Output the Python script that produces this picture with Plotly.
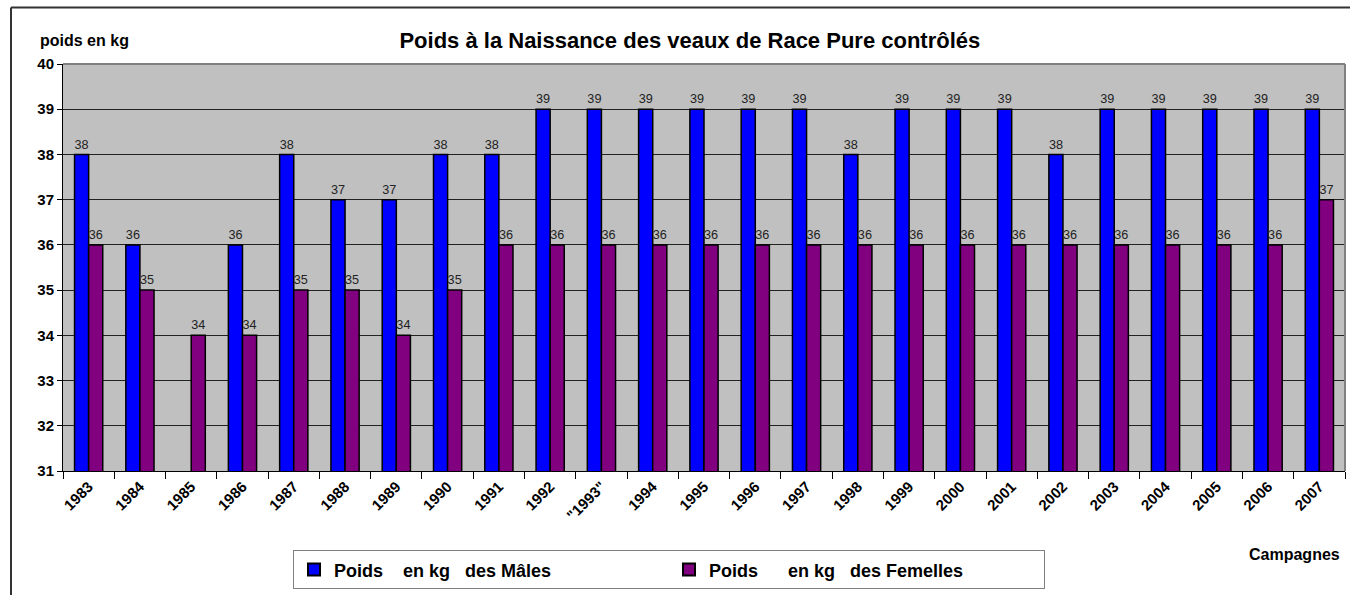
import plotly.graph_objects as go

years = ["1983", "1984", "1985", "1986", "1987", "1988", "1989", "1990", "1991", "1992",
         "\"1993\"", "1994", "1995", "1996", "1997", "1998", "1999", "2000", "2001", "2002",
         "2003", "2004", "2005", "2006", "2007"]
males = [38, 36, None, 36, 38, 37, 37, 38, 38, 39,
         39, 39, 39, 39, 39, 38, 39, 39, 39, 38,
         39, 39, 39, 39, 39]
females = [36, 35, 34, 34, 35, 35, 34, 35, 36, 36,
           36, 36, 36, 36, 36, 36, 36, 36, 36, 36,
           36, 36, 36, 36, 37]
y_ticks = [31, 32, 33, 34, 35, 36, 37, 38, 39, 40]

FONT = "Arial, 'Liberation Sans', sans-serif"
W, H = 1350, 595
ML, MR, MT, MB = 63, 5, 64, 121
PW, PH = W - ML - MR, H - MT - MB


def px(x):
    return (x - ML) / PW


def py(y):
    return (H - MB - y) / PH


fig = go.Figure()
fig.add_trace(go.Bar(
    x=years, y=males, name="Poids    en kg   des Mâles",
    marker=dict(color="#0000FF", line=dict(color="#000000", width=1.5)),
    text=[str(v) if v is not None else "" for v in males],
    textposition="outside", textfont=dict(family=FONT, size=13, color="#222"),
    cliponaxis=False,
))
fig.add_trace(go.Bar(
    x=years, y=females, name="Poids      en kg   des Femelles",
    marker=dict(color="#800080", line=dict(color="#000000", width=1.5)),
    text=[str(v) for v in females],
    textposition="outside", textfont=dict(family=FONT, size=13, color="#222"),
    cliponaxis=False,
))

fig.update_layout(
    width=W, height=H,
    margin=dict(l=ML, r=MR, t=MT, b=MB),
    paper_bgcolor="white",
    plot_bgcolor="#C0C0C0",
    barmode="group",
    bargap=0.45,
    bargroupgap=0,
    font=dict(family=FONT, color="#000"),
    title=dict(text="<b>Poids à la Naissance des veaux de Race Pure contrôlés</b>",
               x=0.511, xanchor="center", y=1 - 40 / H, yanchor="middle",
               font=dict(family=FONT, size=22, color="#000")),
    xaxis=dict(
        type="category", tickson="boundaries", ticks="outside", ticklen=7,
        tickcolor="#000", tickangle=-45,
        tickfont=dict(family=FONT, size=15, color="#000", weight="bold"),
        showline=True, linecolor="#000", linewidth=1, showgrid=False,
    ),
    yaxis=dict(
        range=[31, 40], tickvals=y_ticks, ticks="outside", ticklen=5,
        tickcolor="#000",
        tickfont=dict(family=FONT, size=15, color="#000", weight="bold"),
        showline=True, linecolor="#000", linewidth=1,
        showgrid=True, gridcolor="#222", gridwidth=1, zeroline=False,
    ),
    legend=dict(
        orientation="h", x=px(669), xanchor="center", y=py(554), yanchor="top",
        bgcolor="white", bordercolor="#808080", borderwidth=1,
        font=dict(family=FONT, size=18, color="#000", weight="bold"),
        entrywidth=330, itemsizing="constant",
    ),
    shapes=[
        dict(type="line", xref="paper", yref="paper", x0=0, x1=1, y0=1, y1=1,
             line=dict(color="#808080", width=2)),
        dict(type="line", xref="paper", yref="paper", x0=1, x1=1, y0=0, y1=1,
             line=dict(color="#808080", width=2)),
        dict(type="line", xref="paper", yref="paper", x0=px(11), x1=px(1360),
             y0=py(7), y1=py(7), line=dict(color="#333", width=2)),
        dict(type="line", xref="paper", yref="paper", x0=px(11), x1=px(11),
             y0=py(7), y1=py(610), line=dict(color="#333", width=2)),
    ],
    annotations=[
        dict(text="<b>poids en kg</b>", xref="paper", yref="paper",
             x=px(84), y=py(40), xanchor="center", yanchor="middle",
             showarrow=False, font=dict(family=FONT, size=16, color="#000")),
        dict(text="<b>Campagnes</b>", xref="paper", yref="paper",
             x=px(1294), y=py(558), xanchor="center", yanchor="middle",
             showarrow=False, font=dict(family=FONT, size=16, color="#000")),
    ],
)

fig.write_html(
    "out.html",
    config={"displayModeBar": False},
    post_script="document.body.style.margin='0';document.body.style.overflow='hidden';",
)
